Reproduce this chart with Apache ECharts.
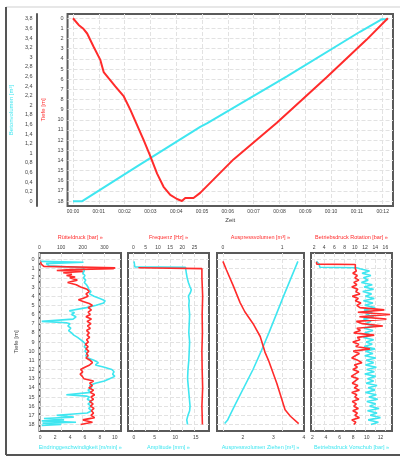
<!DOCTYPE html>
<html><head><meta charset="utf-8">
<script src="https://cdn.jsdelivr.net/npm/echarts@6/dist/echarts.min.js"></script>
<style>html,body{margin:0;padding:0;background:#fff}#c{width:400px;height:457px}</style>
</head><body><div id="c"></div>
<script>
// ---------- top chart ----------
const timeTicks = [0,1,2,3,4,5,6,7,8,9,10,11,12];
const depthTicks = [0,1,2,3,4,5,6,7,8,9,10,11,12,13,14,15,16,17,18];
const volTicks = [0,0.2,0.4,0.6,0.8,1,1.2,1.4,1.6,1.8,2,2.2,2.4,2.6,2.8,3,3.2,3.4,3.6,3.8];
const topRedTime  = [0,0.22,0.39,0.55,0.80,1.06,1.19,1.38,1.64,1.97,2.22,2.48,2.74,3.00,3.26,3.51,3.77,4.03,4.22,4.35,4.67,4.93,6.22,7.90,9.83,11.38,12.20];
const topRedDepth = [0,0.66,1.0,1.5,2.8,4.1,5.3,5.9,6.7,7.7,9.0,10.5,12.0,13.6,15.3,16.6,17.4,17.8,18.0,17.7,17.7,17.2,13.9,10.3,5.8,2.1,0];
const topCyanTime = [0,0.36,2.5,4.93,5.19,8.29,11.12,11.96,12.2];
const topCyanVol  = [0,0,0.73,1.55,1.62,2.60,3.53,3.79,3.79];

// ---------- panel 1 ----------
const p1TopTicks = [0,100,200,300];
const p1BotTicks = [0,2,4,6,8,10];
const p1RedDepth = [0.25,0.5,0.75,0.9,1.0,1.1,1.2,1.3,1.45,1.6,1.75,1.9,2.0,2.25,2.5,2.75,3.0,3.25,3.5,3.75,4.0,4.25,4.4,4.6,4.8,5.0,5.25,5.5,5.75,6.0,6.25,6.5,6.75,7.0,7.25,7.5,7.75,8.0,8.25,8.5,8.75,9.0,9.25,9.5,9.75,10.0,10.25,10.5,10.75,11.0,11.25,11.5,11.75,12.0,12.25,12.5,12.75,13.0,13.25,13.5,13.75,14.0,14.25,14.5,14.75,15.0,15.25,15.5,15.75,16.0,16.25,16.5,16.75,17.0,17.25,17.5,17.75,18.0];
const p1RedVal   = [5,8,20,350,340,140,80,200,110,150,125,165,140,175,130,170,190,220,230,215,225,200,180,205,230,245,225,240,225,235,215,240,220,238,222,235,218,230,220,232,218,226,212,225,215,228,218,225,215,235,245,232,210,190,200,188,198,205,250,232,245,228,250,235,255,238,250,232,248,236,252,240,250,238,255,200,245,190];
const p1CyanDepth = [0.2,0.3,0.45,0.7,0.9,1.0,1.25,1.5,1.75,2.0,2.25,2.5,2.75,3.0,3.25,3.5,3.75,4.0,4.25,4.5,4.75,5.0,5.25,5.4,5.6,5.8,6.0,6.25,6.5,6.75,6.9,7.0,7.25,7.5,7.75,8.0,8.25,8.5,8.75,9.0,9.25,9.5,9.75,10.0,10.25,10.5,10.75,11.0,11.25,11.5,11.75,12.0,12.25,12.5,12.75,13.0,13.25,13.5,13.75,14.0,14.25,14.5,14.75,14.9,15.0,15.25,15.5,15.75,16.0,16.25,16.5,16.75,17.0,17.2,17.35,17.5,17.6,17.75,17.85,18.0,18.1];
const p1CyanVal   = [0.1,5.8,0.8,1.2,5.8,5.6,5.9,5.7,6.0,5.8,6.1,5.9,6.2,6.4,6.5,6.8,6.6,7.2,8.0,8.7,8.5,7.5,6.2,6.0,3.9,4.6,4.2,4.8,4.4,0.2,3.5,4.0,3.7,4.1,3.8,4.2,4.5,5.0,5.4,5.8,6.1,5.9,6.2,6.0,6.3,6.1,6.4,7.2,7.8,7.4,8.6,9.6,9.9,9.7,10.0,9.3,8.6,7.4,6.6,6.9,6.4,6.8,3.5,6.2,6.6,6.3,6.9,6.4,6.8,6.5,6.9,6.3,2.2,4.5,0.5,3.2,0.2,4.8,0.3,2.8,0.2];

// ---------- panel 2 ----------
const p2TopTicks = [0,5,10,15,20,25];
const p2BotTicks = [0,5,10,15];
const p2RedDepth = [0.9,1.0,1.1,2,4,6,8,10,12,14,16,18];
const p2RedVal   = [2,28,28.2,28.0,28.3,28.1,28.2,28.0,28.1,28.3,28.0,28.2];
const p2CyanDepth = [0.2,0.8,0.85,1.0,1.5,2.0,2.5,3.0,3.3,3.6,4.0,4.5,5,6,7,8,9,10,11,12,13,14,15,16,16.5,17,17.5,18];
const p2CyanVal   = [0,0.2,12.5,12.8,12.7,12.9,13.2,13.6,13.9,13.7,13.2,13.4,13.3,13.5,13.4,13.3,13.5,13.4,13.3,13.1,13.0,13.2,13.4,13.6,13.5,13.1,12.8,13.0];

// ---------- panel 3 ----------
const p3TopTicks = [0,1];
const p3BotTicks = [2,3,4];
const p3RedDepth = [0.2,1.15,2.8,4.7,5.7,7.0,8.4,10.1,11.0,13.5,16.4,17.1,17.9];
const p3RedVal   = [0,0.06,0.17,0.29,0.37,0.51,0.63,0.71,0.77,0.91,1.05,1.14,1.28];
const p3CyanDepth = [0.2,4,8,9.9,12,16,17.5,17.9];
const p3CyanVal   = [3.8,3.33,2.85,2.61,2.33,1.72,1.5,1.4];

// ---------- panel 4 ----------
const p4TopTicks = [2,4,6,8,10,12,14,16];
const p4BotTicks = [2,4,6,8,10,12];
const p4RedDepth = [0.25,0.5,0.55,1.0,1.25,1.5,1.75,2.0,2.25,2.5,2.75,3.0,3.25,3.5,3.75,4.0,4.25,4.5,4.75,5.0,5.25,5.5,5.75,6.0,6.25,6.5,6.75,7.0,7.25,7.5,7.75,8.0,8.25,8.5,8.75,9.0,9.25,9.5,9.75,10.0,10.25,10.5,10.75,11.0,11.25,11.5,11.75,12.0,12.25,12.5,12.75,13.0,13.25,13.5,13.75,14.0,14.25,14.5,14.75,15.0,15.25,15.5,15.75,16.0,16.25,16.5,16.75,17.0,17.25,17.5,17.75,18.0];
const p4RedVal   = [2.5,2.5,10.1,10.1,10.3,9.6,10.5,10.0,10.8,9.8,10.4,9.4,10.6,10.2,11.0,9.5,10.7,10.1,11.2,10.4,11.0,15.8,10.6,16.9,10.9,16.2,10.3,11.5,15.5,10.4,11.1,9.8,13.8,10.5,11.0,9.6,10.8,10.2,13.0,9.7,10.9,10.1,9.4,10.6,11.4,9.9,10.5,9.6,10.8,10.0,9.3,10.7,10.1,9.5,10.6,9.9,10.9,9.4,10.4,10.0,10.8,9.5,10.3,9.8,10.7,9.6,10.5,10.0,10.9,9.4,10.2,9.8];
const p4CyanDepth = [0.2,0.5,0.85,0.9,1.0,1.25,1.5,1.75,2.0,2.25,2.5,2.75,3.0,3.25,3.5,3.75,4.0,4.25,4.5,4.75,5.0,5.25,5.5,5.75,6.0,6.25,6.5,6.75,7.0,7.25,7.5,7.75,8.0,8.25,8.5,8.75,9.0,9.25,9.5,9.75,10.0,10.25,10.5,10.75,11.0,11.25,11.5,11.75,12.0,12.25,12.5,12.75,13.0,13.25,13.5,13.75,14.0,14.25,14.5,14.75,15.0,15.25,15.5,15.75,16.0,16.25,16.5,16.75,17.0,17.25,17.5,17.75,18.0];
const p4CyanVal   = [2.6,3.0,3.1,8.5,9.0,10.4,9.3,10.6,9.5,10.2,9.2,10.8,9.6,11.0,9.4,10.7,9.8,11.1,9.5,10.9,9.7,11.2,9.6,10.8,9.9,11.0,9.5,10.6,9.8,11.1,9.6,10.9,9.7,10.7,9.5,11.0,9.9,10.8,9.6,11.2,9.8,10.9,9.7,11.3,9.9,11.0,9.8,11.4,10.0,11.1,9.7,11.3,10.1,11.0,9.9,11.5,10.2,11.2,9.8,11.4,10.3,11.6,10.0,11.3,10.4,11.8,10.1,11.5,10.5,12.0,10.2,11.7,10.6];

// ---------- texts ----------
const topTexts = { x: 'Zeit', yRed: 'Tiefe [m]', yCyan: 'Betonvolumen [m³]' };
const panelTopNames = ['Rütteldruck [bar] »','Frequenz [Hz] »','Auspressvolumen [m³] »','Betriebsdruck Rotation [bar] »'];
const panelBotNames = ['Eindringgeschwindigkeit [m/min] »','Amplitude [mm] »','Auspressvolumen Ziehen [m³] »','Betriebsdruck Vorschub [bar] »'];
const depthName = 'Tiefe [m]';

// ---------- build ----------
const RED = '#ff2b2b', CYAN = '#3fe6f0', TXT = '#444', FRAME = '#5a5a5a';
const FONT = 'Liberation Sans, Arial, sans-serif';
const zip = (xs, ys) => xs.map((x, i) => [x, ys[i]]);
const fmtNum = v => String(v).replace('.', ',');
const pad = n => (n < 10 ? '0' : '') + n;

const gridLine = { show: true, lineStyle: { color: '#e2e2e2', type: 'dashed', width: 1 } };

const grids = [
  { left: 67, top: 14, width: 326, height: 192 },
  { left: 39.5, top: 253, width: 81.5, height: 178 },
  { left: 128, top: 253, width: 81, height: 178 },
  { left: 217, top: 253, width: 87, height: 178 },
  { left: 311, top: 253, width: 81, height: 178 }
].map(g => Object.assign({ show: true, borderColor: FRAME, borderWidth: 2, containLabel: false, backgroundColor: '#fff' }, g));

const xAxes = [];
const yAxes = [];
const series = [];

// top chart
xAxes.push({
  type: 'value', gridIndex: 0, position: 'bottom', min: -0.21, max: 12.4,
  name: topTexts.x, nameLocation: 'middle', nameGap: 11,
  nameTextStyle: { color: TXT, fontSize: 6, fontFamily: FONT },
  axisLine: { show: false }, axisTick: { show: false, customValues: timeTicks },
  axisLabel: { customValues: timeTicks, formatter: v => '00:' + pad(Math.round(v)), fontSize: 5, color: TXT, margin: 3, fontFamily: FONT },
  splitLine: gridLine
});
yAxes.push({
  type: 'value', gridIndex: 0, position: 'left', inverse: true, min: -0.42, max: 18.49,
  name: topTexts.yRed, nameLocation: 'middle', nameGap: 20, nameRotate: 90,
  nameTextStyle: { color: RED, fontSize: 6, fontFamily: FONT },
  axisLine: { show: false }, axisTick: { show: false, customValues: depthTicks },
  axisLabel: { customValues: depthTicks, fontSize: 5.5, color: TXT, margin: 4, fontFamily: FONT },
  splitLine: gridLine
});
yAxes.push({
  type: 'value', gridIndex: 0, position: 'left', offset: 31, min: -0.10, max: 3.90,
  name: topTexts.yCyan, nameLocation: 'middle', nameGap: 22, nameRotate: 90,
  nameTextStyle: { color: CYAN, fontSize: 6, fontFamily: FONT },
  axisLine: { show: true, onZero: false, lineStyle: { color: FRAME, width: 2 } },
  axisTick: { show: false, customValues: volTicks },
  axisLabel: { customValues: volTicks, formatter: fmtNum, fontSize: 5.5, color: TXT, margin: 4, fontFamily: FONT },
  splitLine: { show: false }
});
series.push({ type: 'line', xAxisIndex: 0, yAxisIndex: 1, data: zip(topCyanTime, topCyanVol), symbol: 'none', lineStyle: { color: CYAN, width: 2 }, z: 3 });
series.push({ type: 'line', xAxisIndex: 0, yAxisIndex: 0, data: zip(topRedTime, topRedDepth), symbol: 'none', lineStyle: { color: RED, width: 2 }, z: 4 });

// panels
const panels = [
  { top: [0, 377], bot: [-0.1, 10.83], tt: p1TopTicks, bt: p1BotTicks, red: [p1RedVal, p1RedDepth], cyan: [p1CyanVal, p1CyanDepth] },
  { top: [-2.25, 30.9], bot: [-1.46, 18.2], tt: p2TopTicks, bt: p2BotTicks, red: [p2RedVal, p2RedDepth], cyan: [p2CyanVal, p2CyanDepth] },
  { top: [-0.1, 1.37], bot: [1.15, 4.0], tt: p3TopTicks, bt: p3BotTicks, red: [p3RedVal, p3RedDepth], cyan: [p3CyanVal, p3CyanDepth] },
  { top: [1.4, 17.3], bot: [1.8, 13.7], tt: p4TopTicks, bt: p4BotTicks, red: [p4RedVal, p4RedDepth], cyan: [p4CyanVal, p4CyanDepth] }
];

panels.forEach((p, i) => {
  const g = i + 1;
  const xt = xAxes.length;
  xAxes.push({
    type: 'value', gridIndex: g, position: 'top', min: p.top[0], max: p.top[1],
    name: panelTopNames[i], nameLocation: 'middle', nameGap: 13,
    nameTextStyle: { color: RED, fontSize: 5.5, fontFamily: FONT },
    axisLine: { show: false }, axisTick: { show: false, customValues: p.tt },
    axisLabel: { customValues: p.tt, fontSize: 5, color: TXT, margin: 3, fontFamily: FONT },
    splitLine: gridLine
  });
  const xb = xAxes.length;
  xAxes.push({
    type: 'value', gridIndex: g, position: 'bottom', min: p.bot[0], max: p.bot[1],
    name: panelBotNames[i], nameLocation: 'middle', nameGap: 13,
    nameTextStyle: { color: CYAN, fontSize: 5.5, fontFamily: FONT },
    axisLine: { show: false }, axisTick: { show: false, customValues: p.bt },
    axisLabel: { customValues: p.bt, fontSize: 5, color: TXT, margin: 4, fontFamily: FONT },
    splitLine: { show: false }
  });
  const yi = yAxes.length;
  yAxes.push({
    type: 'value', gridIndex: g, position: 'left', inverse: true, min: -0.71, max: 18.71,
    name: i === 0 ? depthName : '', nameLocation: 'middle', nameGap: 20, nameRotate: 90,
    nameTextStyle: { color: TXT, fontSize: 6, fontFamily: FONT },
    axisLine: { show: false }, axisTick: { show: false, customValues: depthTicks },
    axisLabel: { show: i === 0, customValues: depthTicks, fontSize: 5.5, color: TXT, margin: 5, fontFamily: FONT },
    splitLine: gridLine
  });
  series.push({ type: 'line', xAxisIndex: xb, yAxisIndex: yi, data: zip(p.cyan[0], p.cyan[1]), symbol: 'none', lineStyle: { color: CYAN, width: 1.6 }, z: 3 });
  series.push({ type: 'line', xAxisIndex: xt, yAxisIndex: yi, data: zip(p.red[0], p.red[1]), symbol: 'none', lineStyle: { color: RED, width: 1.6 }, z: 4 });
});

const chart = echarts.init(document.getElementById('c'), null, { renderer: 'canvas' });
chart.setOption({
  animation: false,
  backgroundColor: '#fff',
  grid: grids,
  xAxis: xAxes,
  yAxis: yAxes,
  series: series,
  graphic: [
    { type: 'line', shape: { x1: 6, y1: 7, x2: 400, y2: 7 }, style: { stroke: '#cfcfcf', lineWidth: 1 }, silent: true },
    { type: 'line', shape: { x1: 6, y1: 7, x2: 6, y2: 455 }, style: { stroke: '#555', lineWidth: 2 }, silent: true },
    { type: 'line', shape: { x1: 6, y1: 455, x2: 400, y2: 455 }, style: { stroke: '#555', lineWidth: 2 }, silent: true }
  ]
});
</script></body></html>
